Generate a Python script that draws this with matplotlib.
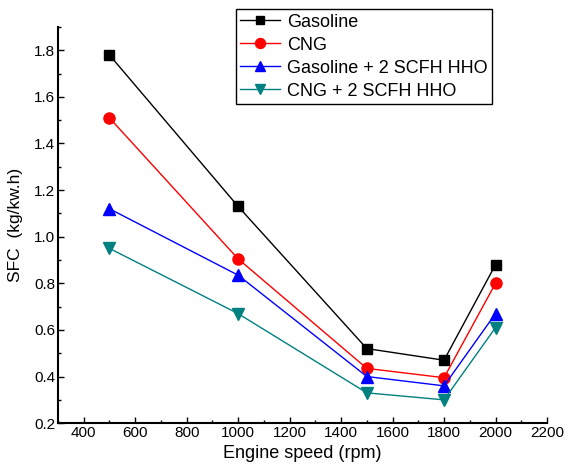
import numpy as np
import matplotlib.pyplot as plt
from matplotlib.ticker import MultipleLocator

#%% Data
speed = [500, 1000, 1500, 1800, 2000]
sfc_gasoline = [1.78, 1.13, 0.52, 0.47, 0.88]
sfc_cng = [1.51, 0.905, 0.435, 0.395, 0.80]
sfc_gasoline_hho = [1.12, 0.835, 0.40, 0.36, 0.67]
sfc_cng_hho = [0.95, 0.67, 0.33, 0.30, 0.61]

plt.rcParams['font.family'] = ['Liberation Sans', 'DejaVu Sans']

#%% Figure
fig = plt.figure(figsize=(5.68, 4.65), dpi=100)
ax = fig.add_axes([0.102, 0.090, 0.861, 0.852])

ax.plot(speed, sfc_gasoline, '-s', color='black', lw=1, ms=7, label='Gasoline')
ax.plot(speed, sfc_cng, '-o', color='red', lw=1, ms=8, label='CNG')
ax.plot(speed, sfc_gasoline_hho, '-^', color='blue', lw=1, ms=8, label='Gasoline + 2 SCFH HHO')
ax.plot(speed, sfc_cng_hho, '-v', color='#008080', lw=1, ms=8, label='CNG + 2 SCFH HHO')

ax.set_xlim(300, 2200)
ax.set_ylim(0.2, 1.9)
ax.xaxis.set_major_locator(MultipleLocator(200))
ax.xaxis.set_minor_locator(MultipleLocator(100))
ax.yaxis.set_major_locator(MultipleLocator(0.2))
ax.yaxis.set_minor_locator(MultipleLocator(0.1))
ax.tick_params(which='both', direction='in', labelsize=11, width=1, pad=2)
ax.tick_params(which='major', length=4)
ax.tick_params(which='minor', length=2)

for s in ['top', 'right']:
    ax.spines[s].set_visible(False)
for s in ['left', 'bottom']:
    ax.spines[s].set_linewidth(1.5)

ax.set_xlabel('Engine speed (rpm)', fontsize=13, labelpad=4)
ax.set_ylabel('SFC  (kg/kw.h)', fontsize=12.5, labelpad=8)

leg = fig.legend(loc='upper left', bbox_to_anchor=(0.415, 0.98), fontsize=13,
                 frameon=True, fancybox=False, edgecolor='black', framealpha=1,
                 handlelength=2.2, borderpad=0.25, labelspacing=0.33, handletextpad=0.4,
                 borderaxespad=0, markerscale=0.9)
leg.get_frame().set_linewidth(1)

fig.savefig('out.png', dpi=100)
